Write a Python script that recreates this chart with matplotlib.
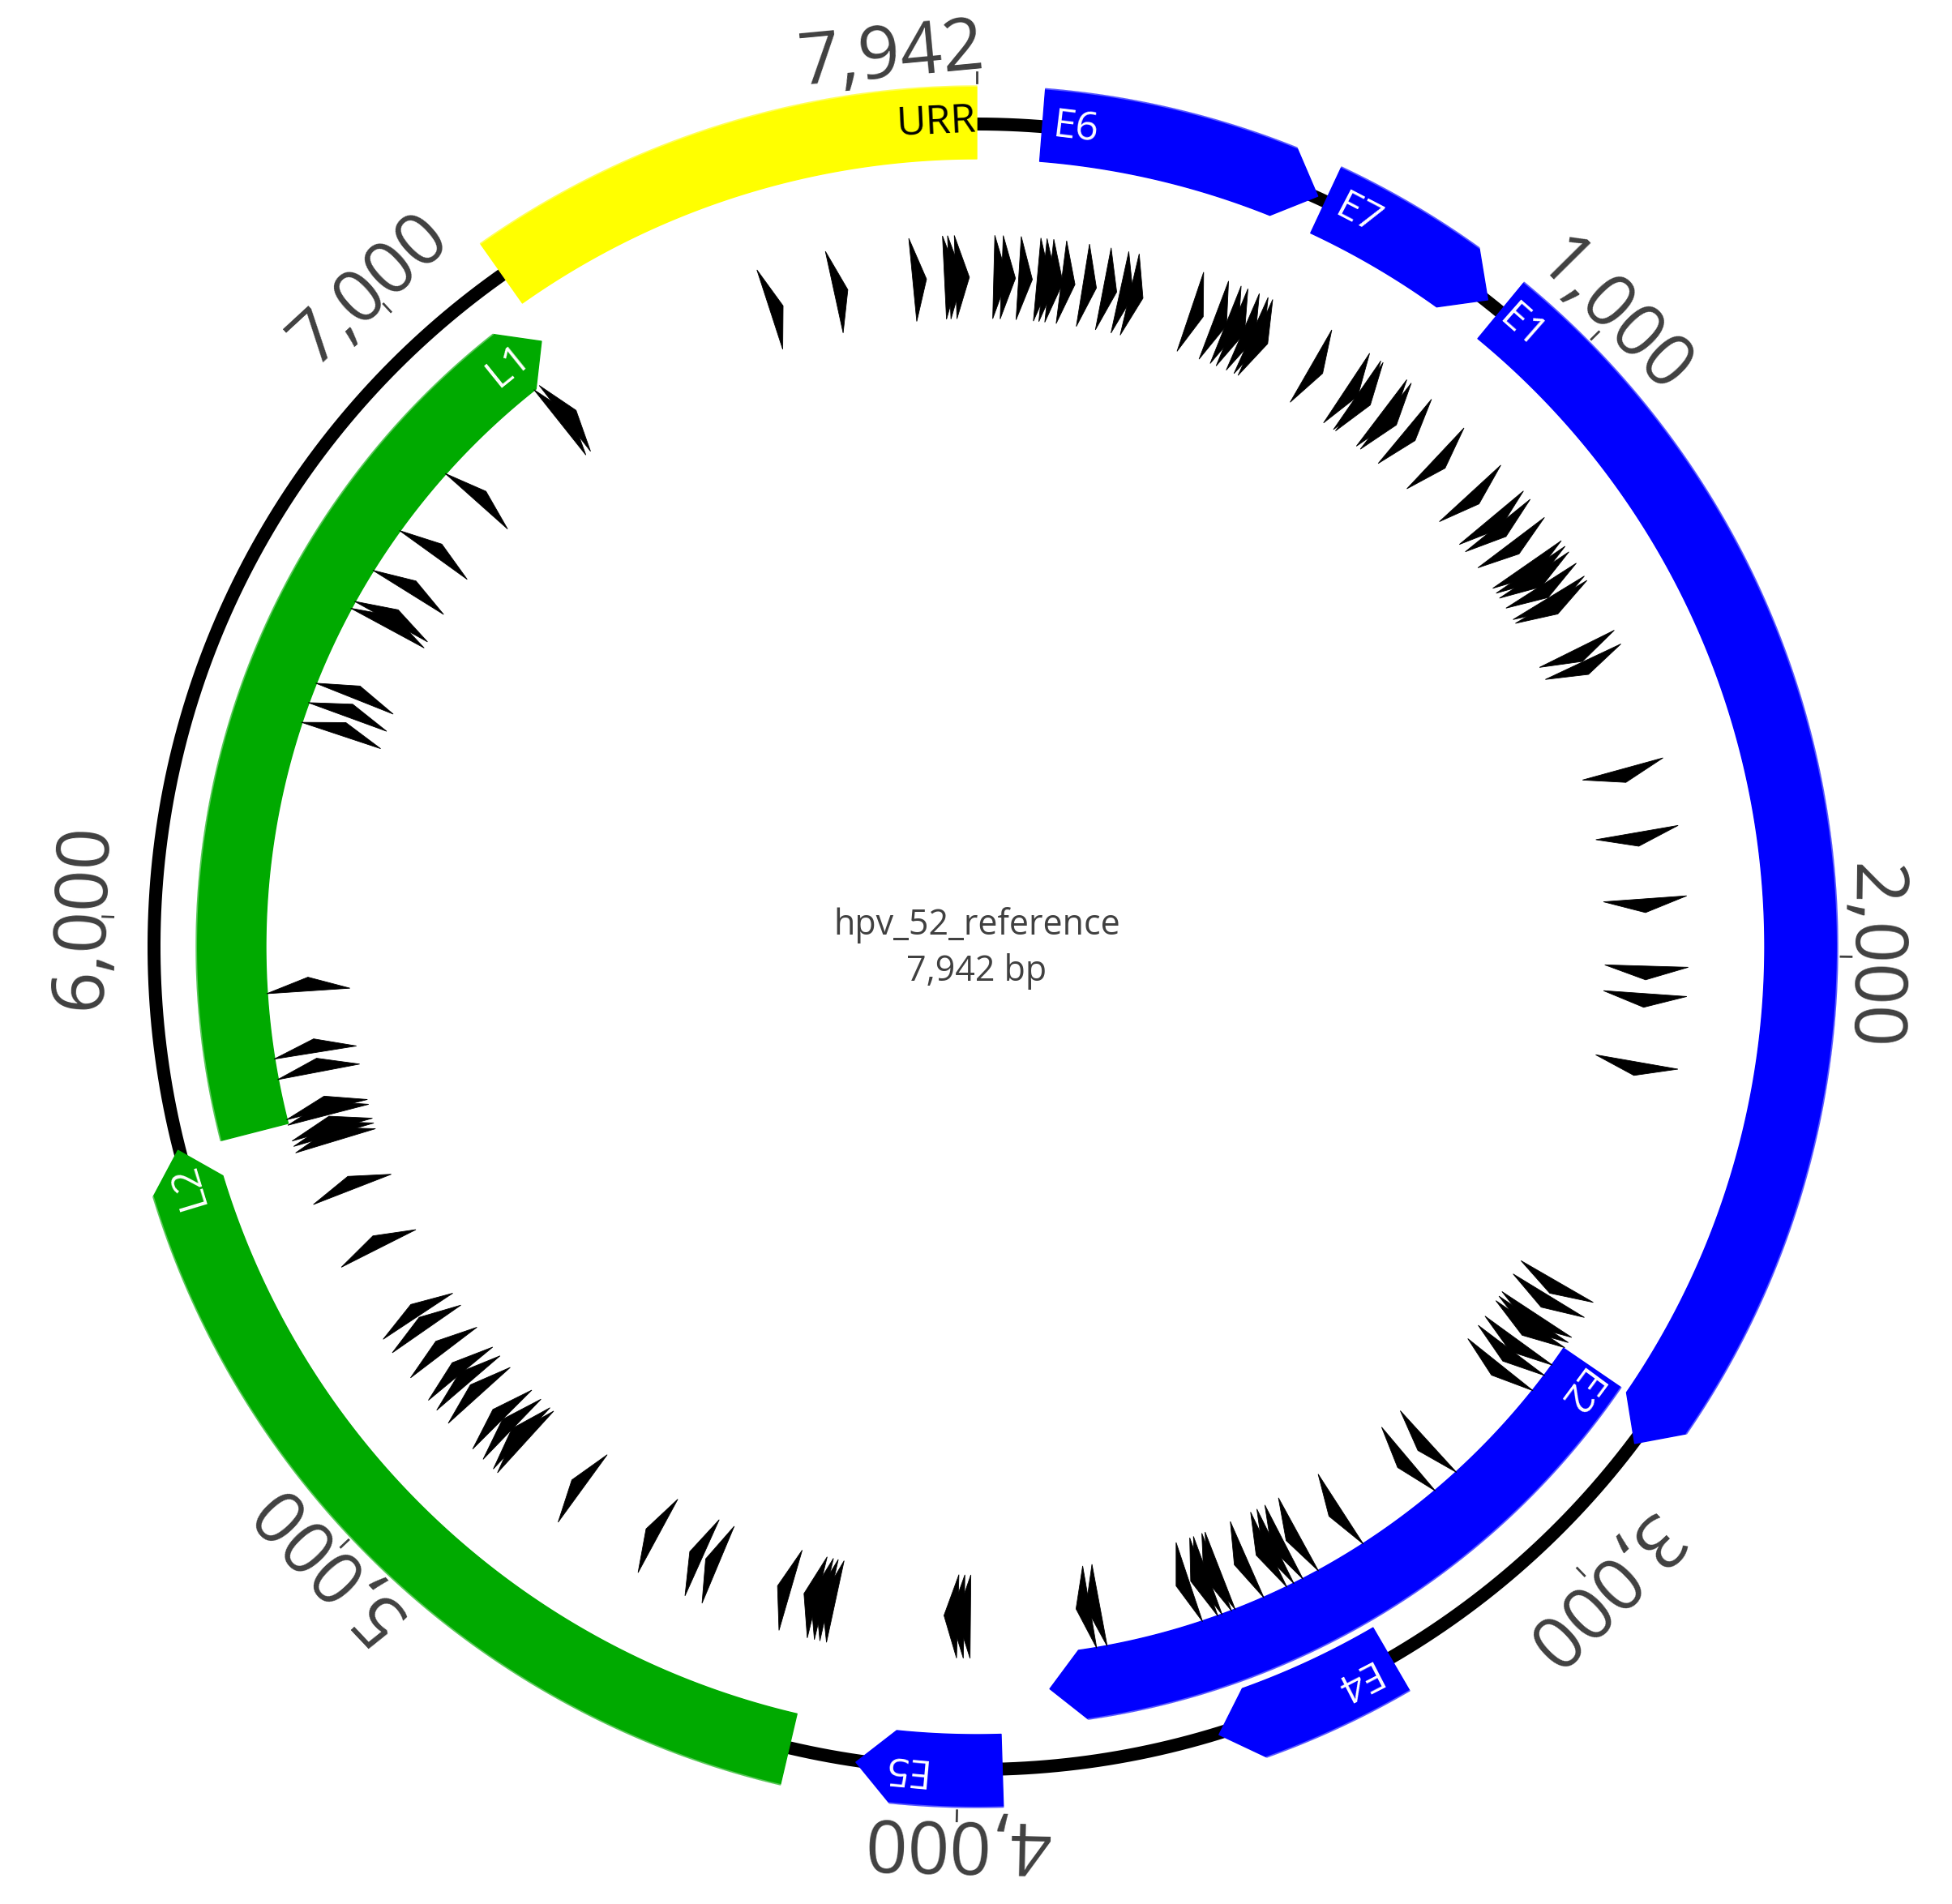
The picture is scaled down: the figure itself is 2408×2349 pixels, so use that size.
import numpy as np
import matplotlib.pyplot as plt
from matplotlib.patches import Polygon

seq_name = 'hpv_52_reference'
seq_len = 7942

# features (bp), clockwise from the top
feat_names = ['URR', 'E6', 'E7', 'E1', 'E2', 'E4', 'E5', 'L2', 'L1']
feat_starts = [7165, 101, 553, 871, 2744, 3305, 3932, 4262, 5639]
feat_ends = [7942, 539, 845, 2803, 3847, 3594, 4157, 5641, 7154]
feat_track = ['outer', 'outer', 'outer', 'outer', 'inner', 'outer', 'outer', 'outer', 'inner']
feat_arrow = [False, True, True, True, True, True, True, True, True]
feat_colors = ['#ffff00', '#0000ff', '#0000ff', '#0000ff', '#0000ff', '#0000ff', '#0000ff', '#00aa00', '#00aa00']
feat_label_pos = [7880, 152, 607, 912, 2791, 3371, 4085, 5585, 7084]
feat_label_colors = ['black', 'white', 'white', 'white', 'white', 'white', 'white', 'white', 'white']

# short forward-strand sites on the inner ring (start bp)
site_starts = [
    7545, 7671, 7821, 7881, 7890, 7902, 32, 47, 79, 114, 125, 137, 160, 201, 240, 272, 291,
    410, 457, 481, 494, 516, 533, 542,
    660, 739, 763, 768, 820, 830, 876, 953, 1046, 1107, 1126, 1167, 1218, 1230, 1242, 1266,
    1293, 1302, 1403, 1430,
    1646, 1769, 1895, 2022, 2074, 2204,
    2647, 2678, 2720, 2731, 2742, 2780, 2803, 2837, 3036, 3086,
    3245, 3338, 3369, 3387, 3401, 3446, 3501, 3508, 3526, 3534, 3563,
    3738, 3757, 3983, 3995, 4007,
    4240, 4252, 4262, 4275, 4327, 4472, 4505, 4598, 4766,
    4905, 4915, 4940, 4966, 5029, 5060, 5083, 5134, 5189, 5218,
    5366, 5488, 5585, 5597, 5607, 5636, 5646, 5719, 5756, 5873,
    6362, 6399, 6436, 6583, 6597, 6661, 6746, 6876, 7093, 7105,
]
site_len = 26

tick_pos = [1000, 2000, 3000, 4000, 5000, 6000, 7000, 7942]
tick_labels = ['1,000', '2,000', '3,000', '4,000', '5,000', '6,000', '7,000', '7,942']

W, H = 2408, 2349
cx, cy = 1205, 1168
r_backbone = 1015
tracks = {'outer': (1017, 45), 'inner': (920, 43)}
head_deg = 2.6
site_r_in, site_r_out, site_r_tip = 775, 878, 826
txt_color = '#404040'
font = 'Open Sans'


def ang(bp):
    return 2 * np.pi * np.asarray(bp, dtype=float) / seq_len


def xy(t, r):
    return cx + r * np.sin(t), cy - r * np.cos(t)


fig = plt.figure(figsize=(W / 100, H / 100), dpi=100)
ax = fig.add_axes([0, 0, 1, 1])
ax.set_xlim(0, W)
ax.set_ylim(H, 0)
ax.axis('off')

# backbone
t = np.linspace(0, 2 * np.pi, 1000)
bx, by = xy(t, r_backbone)
ax.plot(bx, by, color='black', lw=11.5, solid_capstyle='butt', zorder=1)

# features
for name, s, e, trk, arr, col, lp, lc in zip(feat_names, feat_starts, feat_ends, feat_track,
                                              feat_arrow, feat_colors, feat_label_pos, feat_label_colors):
    rc, hw = tracks[trk]
    t0, t1 = ang(s), ang(e)
    tb = t1 - np.radians(head_deg) if arr else t1
    ts = np.linspace(t0, tb, 300)
    ox, oy = xy(ts, rc + hw)
    ix, iy = xy(ts[::-1], rc - hw)
    px = list(ox) + ([xy(t1, rc)[0]] if arr else []) + list(ix)
    py = list(oy) + ([xy(t1, rc)[1]] if arr else []) + list(iy)
    ax.add_patch(Polygon(np.column_stack([px, py]), closed=True, facecolor=col,
                         edgecolor=col, lw=1, joinstyle='round', zorder=2))
    # light rim on the outer edge
    ax.plot(ox, oy, color='white', alpha=0.35, lw=1.5, zorder=2.5)
    ta = ang(lp)
    lx, ly = xy(ta, rc)
    ax.text(lx, ly, name, rotation=-np.degrees(ta), rotation_mode='anchor', ha='center',
            va='center', fontsize=36, color=lc, family=font, zorder=3)

# sites
for s in site_starts:
    a0 = ang(s)
    a1 = ang(s + site_len)
    p = [xy(a0, site_r_in), xy(a0, site_r_out), xy(a1, site_r_tip)]
    ax.add_patch(Polygon(p, closed=True, facecolor='black', edgecolor='black', lw=0.6, zorder=2))

# ticks and position labels
for pos, lab in zip(tick_pos, tick_labels):
    ta = ang(pos)
    x0, y0 = xy(ta, 1066)
    x1, y1 = xy(ta, 1079)
    ax.plot([x0, x1], [y0, y1], color=txt_color, lw=2, zorder=1)
    if pos == seq_len:
        ta = ang(pos - 120)  # keep the end label clear of the origin
    lx, ly = xy(ta, 1079)
    ax.text(lx, ly, lab, rotation=-np.degrees(ta), rotation_mode='anchor', ha='center',
            va='baseline', fontsize=65, color=txt_color, family=font, zorder=3)

ax.text(cx, cy - 15, seq_name, ha='center', va='baseline', fontsize=31, color=txt_color, family=font)
ax.text(cx, cy + 42, '{:,} bp'.format(seq_len), ha='center', va='baseline', fontsize=31,
        color=txt_color, family=font)

fig.savefig('out.png', dpi=100, facecolor='white')
